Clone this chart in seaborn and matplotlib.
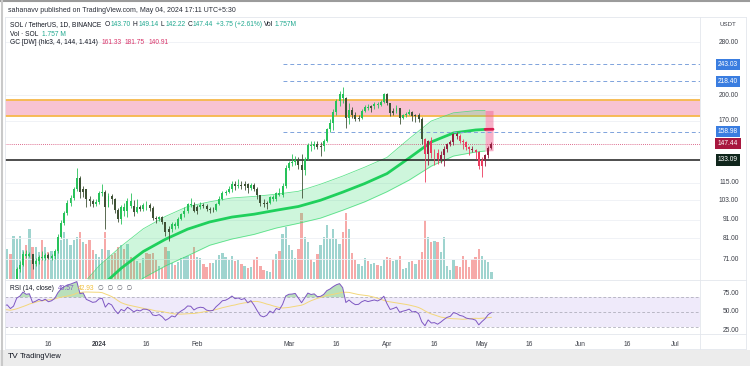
import numpy as np
import pandas as pd
import matplotlib
matplotlib.use("Agg")
import matplotlib.pyplot as plt
import matplotlib.dates as mdates
import matplotlib.transforms as mtransforms
from matplotlib.lines import Line2D
from matplotlib.patches import Rectangle
import seaborn as sns

sns.set_theme(style="white")
plt.rcParams['font.family'] = ['Liberation Sans', 'DejaVu Sans']

# ---- daily SOL/USDT candles, 2023-12-02 .. 2024-05-04 ----
first_open = 59.8
close = [
    60.5, 61.0, 59.5, 60.8, 66.5, 68.5, 73.5,
    72.5, 73.2, 69.0, 70.2, 72.0, 71.3, 72.8,
    71.6, 72.4, 74.5, 81.5, 89.0, 95.0, 101.0,
    104.5, 110.5, 118.5, 108.5, 110.5, 104.0, 102.5,
    100.8, 101.8,
    107.5, 108.5, 99.0, 106.0, 104.0, 97.0, 91.5,
    98.5, 96.0, 102.5, 99.5, 95.5, 98.5, 97.2,
    100.0, 99.8, 98.2, 92.2, 91.3, 92.5, 89.5,
    84.2, 86.0, 88.8, 87.5, 91.5, 94.2, 96.5,
    100.5, 100.2, 96.5,
    98.8, 99.8, 99.4, 97.2, 96.6, 96.9, 100.5,
    103.5, 107.5, 108.2, 110.5, 114.2, 112.5, 113.5,
    112.5, 113.8, 111.2, 113.5, 110.5, 106.2, 101.5,
    100.3, 101.5, 105.2, 103.5, 107.8, 106.8, 112.5,
    126.5,
    130.5, 131.0, 132.5, 128.8, 124.5, 133.5, 146.5,
    145.0, 146.8, 144.0, 144.8, 149.5, 161.5, 168.0,
    180.0, 192.5, 202.0, 197.0, 173.0, 182.0, 176.5,
    172.5, 173.5, 181.5, 186.0, 184.0, 186.5, 189.0,
    187.5, 191.8, 202.0,
    190.0, 178.5, 181.0, 184.5, 173.5, 176.0, 177.8,
    180.5, 175.0, 176.0, 171.8, 151.5, 138.0, 149.5,
    138.5, 139.2, 133.5, 137.5, 142.5, 146.8, 148.8,
    156.5, 154.5, 150.2, 148.5, 144.2, 142.5, 141.8,
    139.5, 127.8,
    132.5, 136.8, 143.7, 147.44,
]
high = [
    61.5, 61.8, 61.2, 61.7, 67.5, 70.0, 74.5,
    75.0, 74.3, 73.5, 71.5, 73.0, 74.5, 74.0,
    73.8, 73.5, 75.5, 83.0, 91.0, 96.5, 103.0,
    106.5, 112.0, 126.5, 120.0, 112.5, 110.8, 106.0,
    104.0, 104.0,
    109.5, 114.0, 110.0, 107.8, 107.0, 104.5, 98.0,
    100.0, 101.0, 104.5, 107.5, 103.0, 104.0, 100.0,
    101.5, 102.5, 101.5, 99.5, 93.5, 93.5, 93.0,
    90.0, 87.5, 89.5, 90.0, 92.5, 95.0, 98.5,
    101.5, 104.5, 102.0,
    100.0, 102.0, 101.5, 100.8, 99.0, 98.5, 101.5,
    105.5, 109.5, 109.8, 112.5, 116.0, 116.5, 117.5,
    116.5, 116.0, 114.5, 115.0, 114.7, 112.0, 106.5,
    103.8, 102.5, 106.0, 106.5, 108.5, 111.5, 114.5,
    128.5,
    132.0, 138.0, 136.0, 135.5, 138.0, 135.0, 148.0,
    150.0, 149.5, 150.0, 149.0, 152.0, 163.0, 172.5,
    183.0, 195.0, 205.0, 210.5, 197.5, 190.0, 186.0,
    180.0, 177.0, 183.0, 188.0, 189.5, 188.0, 191.5,
    192.0, 194.0, 203.5,
    202.5, 190.5, 185.0, 188.0, 184.5, 178.0, 180.0,
    183.0, 181.5, 178.0, 178.5, 174.0, 153.0, 151.0,
    153.5, 142.0, 142.5, 140.5, 145.0, 148.0, 151.0,
    158.0, 158.5, 157.0, 151.5, 149.5, 144.8, 145.5,
    142.3, 140.5,
    135.0, 138.0, 144.8, 149.14,
]
low = [
    59.5, 59.8, 58.5, 59.0, 60.5, 65.5, 68.0,
    71.5, 71.8, 66.5, 67.8, 69.0, 70.5, 70.8,
    70.9, 70.5, 71.0, 74.0, 81.0, 88.0, 94.0,
    99.5, 103.0, 109.5, 104.5, 104.8, 99.0, 99.5,
    98.7, 99.2,
    100.5, 106.0, 86.0, 98.5, 100.5, 95.0, 90.0,
    88.5, 93.5, 92.5, 97.8, 93.5, 95.0, 96.0,
    96.5, 97.0, 96.0, 90.8, 89.0, 90.5, 88.5,
    82.0, 79.8, 84.5, 85.8, 86.5, 90.8, 92.8,
    94.8, 98.5, 95.5,
    94.5, 97.3, 98.0, 96.5, 95.3, 95.5, 96.0,
    100.0, 103.0, 106.3, 107.5, 108.8, 109.8, 111.0,
    110.8, 109.6, 107.5, 109.8, 109.2, 103.5, 99.5,
    98.5, 97.3, 100.8, 102.3, 102.5, 105.5, 104.8,
    111.5,
    124.5, 127.5, 128.5, 125.5, 104.5, 121.0, 132.5,
    140.5, 142.5, 142.0, 136.5, 140.5, 148.5, 159.0,
    160.5, 176.5, 187.0, 190.5, 163.0, 166.5, 173.5,
    170.0, 169.5, 172.5, 179.5, 182.5, 180.5, 183.5,
    185.0, 186.5, 191.0,
    187.5, 175.5, 177.0, 178.5, 166.5, 172.0, 174.0,
    176.5, 170.5, 168.5, 169.0, 147.0, 115.5, 128.5,
    134.5, 128.5, 129.8, 130.0, 127.5, 139.8, 144.8,
    146.5, 151.5, 147.5, 142.5, 141.8, 137.5, 139.8,
    133.5, 125.5,
    119.5, 128.2, 134.5, 142.22,
]
volume_m = [
    5.0, 8.0, 6.8, 11.4, 10.8, 11.4, 7.7,
    9.0, 13.5, 8.6, 8.7, 7.2, 10.4, 8.6,
    7.2, 7.6, 7.2, 7.8, 10.4, 12.6, 10.8,
    9.0, 10.4, 11.3, 12.6, 10.0, 9.5, 10.4,
    7.7, 6.8,
    6.0, 8.0, 12.6, 7.7, 6.5, 7.0, 8.5,
    9.0, 8.0, 9.5, 6.0, 5.0, 4.8, 4.2,
    5.5, 7.0, 6.8, 7.0, 5.2, 3.5, 3.0,
    8.6, 7.5, 4.2, 3.8, 4.5, 5.5, 5.8,
    6.3, 6.5, 8.6,
    6.0, 5.5, 4.0, 3.2, 4.3, 4.2, 5.0,
    6.5, 7.0, 5.8, 5.2, 6.2, 4.8, 5.2,
    4.0, 3.5, 3.0, 3.2, 5.4, 5.8, 3.6,
    2.4, 2.2, 2.0, 5.4, 6.8, 7.5, 12.0,
    13.9,
    9.0, 7.8, 5.5, 8.0, 17.6, 11.3, 10.0,
    5.4, 4.5, 6.8, 9.0, 11.3, 14.4, 10.8,
    13.5, 10.8, 9.5, 12.6, 17.6, 13.5, 7.0,
    5.0, 4.0, 3.5, 5.5, 4.8, 4.0, 4.2,
    3.8, 3.5, 5.0,
    5.8, 5.5, 4.8, 5.0, 6.2, 2.8, 3.0,
    4.5, 4.8, 4.0, 5.2, 7.2, 15.7, 11.3,
    10.0, 10.2, 10.0, 7.2, 11.3, 3.6, 2.5,
    5.0, 3.5, 3.2, 6.3, 5.0, 3.2, 5.4,
    5.8, 8.0,
    6.3, 5.0, 4.5, 1.757,
]
# closes before the visible range, only to warm up the RSI
pre_close = [56.0, 56.5, 55.0, 53.5, 53.0, 62.0, 58.0, 57.8, 58.8, 61.0, 60.5,
             55.8, 58.5, 57.5, 58.9, 58.0, 57.0, 55.5, 56.8, 56.2, 59.2, 59.8]

# Gaussian Channel [DW]
gc_dates = ['2023-12-18', '2023-12-25', '2024-01-01', '2024-01-08', '2024-01-15',
            '2024-01-22', '2024-01-29', '2024-02-05', '2024-02-12', '2024-02-19',
            '2024-02-26', '2024-03-04', '2024-03-11', '2024-03-18', '2024-03-25',
            '2024-04-01', '2024-04-08', '2024-04-15', '2024-04-22', '2024-04-29',
            '2024-05-02', '2024-05-04']
gc_upper = [50, 58, 68, 77, 86, 93, 99, 102, 104.5, 105.5, 107, 109, 114, 120, 127,
            135, 152, 170, 179, 181.5, 181.7, 181.75]
gc_mid = [45, 51.5, 59, 67, 74.5, 80.5, 85.8, 89.8, 92.6, 94.3, 96.7, 99, 103, 108.4,
          114.5, 121.9, 134.5, 148.9, 157.6, 160.6, 161.2, 161.33]
gc_lower = [40, 45, 50, 57, 63, 68, 72.5, 77.5, 80.6, 83, 86.4, 89, 92, 96.7, 102,
            108.7, 117, 127.8, 136.2, 139.7, 140.6, 140.91]

price_ticks = [280, 200, 170, 115, 103, 91, 81, 71]
level_tags = [(243.03, '#3a7de0'), (218.40, '#3a7de0'), (158.98, '#3a7de0'),
              (147.44, '#a8173f'), (133.09, '#10261c')]
zone_low, zone_high = 175.0, 194.5
time_ticks = ['2023-12-16', '2024-01-01', '2024-01-16', '2024-02-01', '2024-03-01',
              '2024-03-16', '2024-04-01', '2024-04-16', '2024-05-01', '2024-05-16',
              '2024-06-01', '2024-06-16', '2024-07-01']
time_labels = ['16', '2024', '16', 'Feb', 'Mar', '16', 'Apr', '16', 'May', '16',
               'Jun', '16', 'Jul']

dates = pd.date_range('2023-12-02', '2024-05-04', freq='D')
df = pd.DataFrame({'date': dates, 'close': close, 'high': high, 'low': low,
                   'volume': volume_m})
df['open'] = [first_open] + close[:-1]
df['x'] = mdates.date2num(df['date'])

gx = mdates.date2num(pd.to_datetime(gc_dates))
filt = np.interp(df['x'], gx, gc_mid)

# bar colours as the GC [DW] script paints them (src = hlc3)
hlc3 = (df['high'] + df['low'] + df['close']) / 3
prev = hlc3.shift(1).fillna(hlc3.iloc[0])
colors = []
for src, p, f in zip(hlc3, prev, filt):
    if src > p and src > f:
        colors.append('#27c25a')
    elif src <= p and src > f:
        colors.append('#3f5236')
    elif src < p and src <= f:
        colors.append('#ec3a5e')
    else:
        colors.append('#93203f')
vol_colors = ['#9fd4cf' if c >= o else '#f6a9a8' for o, c in zip(df['open'], df['close'])]

# RSI 14 (Wilder) and its 14 SMA
allc = pd.Series(pre_close + close)
delta = allc.diff().fillna(0)
avg_up = delta.clip(lower=0).ewm(alpha=1 / 14, adjust=False).mean()
avg_dn = (-delta.clip(upper=0)).ewm(alpha=1 / 14, adjust=False).mean()
rsi_all = 100 - 100 / (1 + avg_up / avg_dn)
rsi_ma_all = rsi_all.rolling(14).mean()
rsi = rsi_all.iloc[len(pre_close):].to_numpy()
rsi_ma = rsi_ma_all.iloc[len(pre_close):].to_numpy()

# ---- figure layout in pixels ----
W, H = 750, 366
fig = plt.figure(figsize=(7.5, 3.66), dpi=100)
fig.patch.set_facecolor('white')


def box(l, t, r, b):
    return [l / W, 1 - b / H, (r - l) / W, (b - t) / H]


ax_vol = fig.add_axes(box(5, 18, 700, 279))
ax = fig.add_axes(box(5, 18, 700, 279))
ax_rsi = fig.add_axes(box(5, 281, 700, 333))
for a in (ax, ax_vol, ax_rsi):
    a.set_axis_off()

jan1 = mdates.date2num(pd.Timestamp('2024-01-01'))
xlim = (jan1 - 29.7, jan1 + 189.9)

# volume
ax_vol.bar(df['x'], df['volume'], width=0.72, color=vol_colors, linewidth=0)
ax_vol.set_xlim(*xlim)
ax_vol.set_ylim(0, 70)

# price pane
ax.set_yscale('log')
ax.set_xlim(*xlim)
ax.set_ylim(62.6, 326)
for v in price_ticks:
    ax.axhline(v, color='#eef0f5', lw=0.6, zorder=0)

ax.axhspan(zone_low, zone_high, color='#f8c3d3', zorder=1, lw=0)
ax.axhline(zone_low, color='#f6b84a', lw=1.3, zorder=1.5)
ax.axhline(zone_high, color='#f6b84a', lw=1.3, zorder=1.5)

ax.fill_between(gx[:-1], gc_lower[:-1], gc_upper[:-1], color='#3ddc74', alpha=0.25,
                lw=0, zorder=2)
ax.fill_between(gx[-2:] + np.array([0, 0.5]), gc_lower[-2:], gc_upper[-2:],
                color='#f06292', alpha=0.5, lw=0, zorder=2)
sns.lineplot(x=gx[:-1], y=gc_upper[:-1], ax=ax, color='#3ddc74', lw=0.6, alpha=0.8,
             zorder=2.5)
sns.lineplot(x=gx[:-1], y=gc_lower[:-1], ax=ax, color='#3ddc74', lw=0.6, alpha=0.8,
             zorder=2.5)
sns.lineplot(x=gx[:-1], y=gc_mid[:-1], ax=ax, color='#1fd05c', lw=2.0, zorder=2.6)
sns.lineplot(x=gx[-2:] + np.array([0, 0.5]), y=gc_mid[-2:], ax=ax, color='#d81b4f',
             lw=2.0, zorder=2.6)

dash_start = mdates.date2num(pd.Timestamp('2024-02-28'))
for v in (243.03, 218.40, 158.98):
    ax.hlines(v, dash_start, xlim[1], color='#7fa3dc', lw=0.7,
              linestyles=(0, (4, 3)), zorder=3)
ax.axhline(147.44, color='#d23c6a', lw=0.6, ls=(0, (1, 1.5)), zorder=3)
ax.axhline(133.09, color='#1c1c1c', lw=1.1, zorder=3)

body_lo = np.minimum(df['open'], df['close'])
body_hi = np.maximum(df['open'], df['close'])
heights = np.maximum(body_hi - body_lo, body_lo * 0.004)
ax.vlines(df['x'], df['low'], df['high'], colors=colors, lw=0.6, zorder=4)
ax.bar(df['x'], heights, bottom=body_lo, width=0.62, color=colors, linewidth=0,
       zorder=4.1)

# RSI pane
ax_rsi.set_xlim(*xlim)
ax_rsi.set_ylim(21.6, 91.9)
ax_rsi.axhspan(30, 70, color='#efeafa', lw=0, zorder=0)
for v in (70, 50, 30):
    ax_rsi.axhline(v, color='#a3a3b0', lw=0.5, ls=(0, (4, 3)), zorder=1)
ax_rsi.fill_between(df['x'], 70, rsi, where=rsi > 70, interpolate=True,
                    color='#66bb6a', alpha=0.45, lw=0, zorder=1.5)
ax_rsi.fill_between(df['x'], 30, rsi, where=rsi < 30, interpolate=True,
                    color='#ef5350', alpha=0.45, lw=0, zorder=1.5)
sns.lineplot(x=df['x'], y=rsi_ma, ax=ax_rsi, color='#f3d77a', lw=0.7, zorder=2)
sns.lineplot(x=df['x'], y=rsi, ax=ax_rsi, color='#7e57c2', lw=0.7, zorder=3)

# right price scale
tp = mtransforms.blended_transform_factory(fig.transFigure, ax.transData)
for v in price_ticks:
    ax.text(739 / W, v, f"{v:.2f}", transform=tp, ha='right', va='center',
            fontsize=4.8, color='#3c3f48', clip_on=False)
for v, c in level_tags:
    ax.text(728 / W, v, f"{v:.2f}", transform=tp, ha='center', va='center',
            fontsize=4.8, color='white', clip_on=False,
            bbox=dict(boxstyle='square,pad=0.35', fc=c, ec='none'))
fig.text(728 / W, 1 - 25 / H, 'USDT', ha='center', va='center', fontsize=4.4,
         color='#3c3f48')
tr = mtransforms.blended_transform_factory(fig.transFigure, ax_rsi.transData)
for v in (75, 50, 25):
    ax_rsi.text(739 / W, v, f"{v:.2f}", transform=tr, ha='right', va='center',
                fontsize=4.8, color='#3c3f48', clip_on=False)

# time scale
tt = mtransforms.blended_transform_factory(ax_rsi.transData, fig.transFigure)
for d, lab in zip(time_ticks, time_labels):
    ax_rsi.text(mdates.date2num(pd.Timestamp(d)), 1 - 344 / H, lab, transform=tt,
                ha='center', va='center', fontsize=4.8, color='#3c3f48',
                fontweight='bold' if lab == '2024' else 'normal', clip_on=False)

# pane separators and frame
for (x0, y0, x1, y1) in [(5, 17, 746, 17), (5, 280, 746, 280), (5, 334, 746, 334),
                         (5, 349, 746, 349), (700, 17, 700, 349), (746, 17, 746, 349),
                         (5, 17, 5, 349)]:
    fig.add_artist(Line2D([x0 / W, x1 / W], [1 - y0 / H, 1 - y1 / H],
                          transform=fig.transFigure, color='#e3e6ec', lw=0.6))
fig.add_artist(Line2D([0, 1], [1 - 1 / H, 1 - 1 / H], transform=fig.transFigure,
                      color='#9b9b9b', lw=1.5))
fig.add_artist(Line2D([2 / W, 2 / W], [0, 1], transform=fig.transFigure,
                      color='#c9c9c9', lw=1.5))
fig.add_artist(Rectangle((0, 0), 1, 16 / H, transform=fig.transFigure,
                         fc='#ececec', ec='none'))

# header texts, placed one after another so they never collide
renderer = fig.canvas.get_renderer()


def text_row(px, py, parts, size=4.8):
    x = px
    for s, color, gap in parts:
        t = fig.text(x / W, 1 - py / H, s, ha='left', va='center', fontsize=size,
                     color=color)
        x += t.get_window_extent(renderer).width + gap


dark = '#131722'
teal = '#1fa88f'
pink = '#d8366b'
text_row(8, 10, [('sahanavv published on TradingView.com, May 04, 2024 17:11 UTC+5:30',
                  '#2a2e39', 0)], size=5.0)
text_row(10, 25, [('SOL / TetherUS, 1D, BINANCE', dark, 3), ('O', dark, 0.6),
                  ('143.70', teal, 2.5), ('H', dark, 0.6), ('149.14', teal, 2.5),
                  ('L', dark, 0.6), ('142.22', teal, 2.5), ('C', dark, 0.6),
                  ('147.44', teal, 2.5), ('+3.75 (+2.61%)', teal, 2.5),
                  ('Vol', dark, 0.6), ('1.757M', teal, 0)])
text_row(10, 34, [('Vol · SOL', dark, 4), ('1.757 M', teal, 0)])
text_row(10, 43, [('GC [DW] (hlc3, 4, 144, 1.414)', dark, 4), ('161.33', pink, 3),
                  ('181.75', pink, 3), ('140.91', pink, 0)])
text_row(10, 288, [('RSI (14, close)', dark, 4), ('49.57', '#7e57c2', 3),
                   ('42.93', '#f0c040', 4), ('∅  ∅  ∅  ∅', '#5d606b', 0)])
text_row(8, 357, [('TV', dark, 2)], size=6.0)
text_row(20, 357, [('TradingView', dark, 0)], size=5.4)

fig.savefig('out.png', dpi=100, facecolor='white')
